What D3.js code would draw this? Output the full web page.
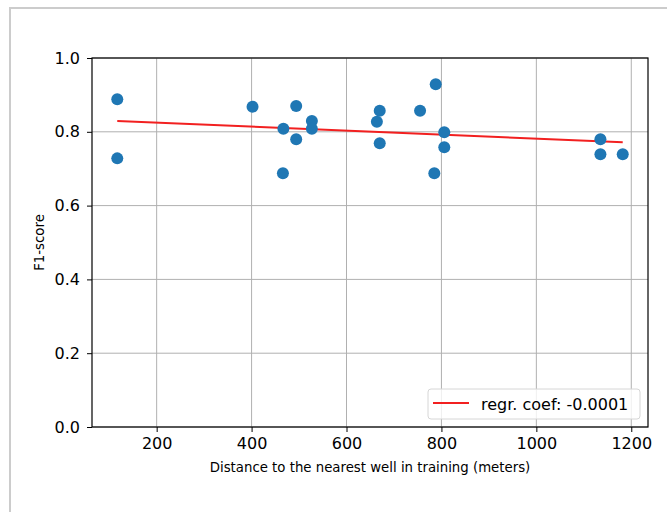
<!DOCTYPE html>
<html>
<head>
<meta charset="utf-8">
<script src="https://cdn.jsdelivr.net/npm/d3@7"></script>
<style>
  body { margin: 0; background: #fff; }
  text { font-family: "DejaVu Sans", sans-serif; fill: #000; }
</style>
</head>
<body>
<svg id="chart" width="667" height="512"></svg>
<script>
// distance to nearest training well (m) and F1-score per test well
var distances = [117, 117, 402, 466, 467, 494, 494, 527, 527, 664, 670, 670, 755, 788, 785, 806, 806, 1135, 1135, 1182];
var f1scores = [0.888, 0.728, 0.868, 0.6875, 0.808, 0.870, 0.780, 0.829, 0.808, 0.827, 0.857, 0.769, 0.857, 0.929, 0.6875, 0.799, 0.758, 0.780, 0.739, 0.739];
var xTicks = [200, 400, 600, 800, 1000, 1200];
var yTicks = [0.0, 0.2, 0.4, 0.6, 0.8, 1.0];

var svg = d3.select("#chart");

// outer card frame
svg.append("rect")
    .attr("x", 10).attr("y", 8)
    .attr("width", 700).attr("height", 600)
    .attr("fill", "none")
    .attr("stroke", "#cccccc")
    .attr("stroke-width", 2);

var plotLeft = 92, plotTop = 58, width = 556, height = 369;
var g = svg.append("g").attr("transform", "translate(" + plotLeft + "," + plotTop + ")");

// matplotlib style 5% margins
var xmin = d3.min(distances), xmax = d3.max(distances);
var pad = (xmax - xmin) * 0.05;
var x = d3.scaleLinear().domain([xmin - pad, xmax + pad]).range([0, width]);
var y = d3.scaleLinear().domain([0, 1]).range([height, 0]);

// grid
g.append("g").selectAll("line").data(xTicks).join("line")
    .attr("x1", d => x(d)).attr("x2", d => x(d))
    .attr("y1", 0).attr("y2", height)
    .attr("stroke", "#b0b0b0").attr("stroke-width", 1);
g.append("g").selectAll("line").data(yTicks).join("line")
    .attr("y1", d => y(d)).attr("y2", d => y(d))
    .attr("x1", 0).attr("x2", width)
    .attr("stroke", "#b0b0b0").attr("stroke-width", 1);

// least squares fit
var mx = d3.mean(distances), my = d3.mean(f1scores);
var sxy = 0, sxx = 0;
distances.forEach((d, i) => {
    sxy += (d - mx) * (f1scores[i] - my);
    sxx += (d - mx) * (d - mx);
});
var slope = sxy / sxx;
var intercept = my - slope * mx;
var fit = [xmin, xmax].map(d => ({x: d, y: intercept + slope * d}));

g.append("path")
    .datum(fit)
    .attr("fill", "none")
    .attr("stroke", "#f22020")
    .attr("stroke-width", 2)
    .attr("d", d3.line().x(d => x(d.x)).y(d => y(d.y)));

// points
g.append("g").selectAll("circle").data(distances).join("circle")
    .attr("cx", d => x(d))
    .attr("cy", (d, i) => y(f1scores[i]))
    .attr("r", 6)
    .attr("fill", "#1f77b4");

// axes
var xAxis = g.append("g")
    .attr("transform", "translate(0," + height + ")")
    .call(d3.axisBottom(x).tickValues(xTicks).tickSize(5).tickPadding(6).tickFormat(d3.format("d")));
var yAxis = g.append("g")
    .call(d3.axisLeft(y).tickValues(yTicks).tickSize(5).tickPadding(7).tickFormat(d3.format(".1f")));
[xAxis, yAxis].forEach(a => {
    a.select(".domain").remove();
    a.selectAll("line").attr("stroke", "#000");
    a.selectAll("text").style("font-size", "16px").style("font-family", "DejaVu Sans");
});

// frame
g.append("rect")
    .attr("width", width).attr("height", height)
    .attr("fill", "none").attr("stroke", "#000").attr("stroke-width", 1.2);

// labels
svg.append("text")
    .attr("x", plotLeft + width / 2).attr("y", 471.5)
    .attr("text-anchor", "middle")
    .style("font-size", "13.3px")
    .text("Distance to the nearest well in training (meters)");
svg.append("text")
    .attr("transform", "translate(44," + (plotTop + height / 2) + ") rotate(-90)")
    .attr("text-anchor", "middle")
    .style("font-size", "13.3px")
    .text("F1-score");

// legend
var legend = svg.append("g").attr("transform", "translate(428,389)");
legend.append("rect")
    .attr("width", 212).attr("height", 30)
    .attr("rx", 3)
    .attr("fill", "#fff").attr("fill-opacity", 0.8)
    .attr("stroke", "#d6d6d6");
legend.append("line")
    .attr("x1", 5).attr("x2", 41).attr("y1", 14).attr("y2", 14)
    .attr("stroke", "#f22020").attr("stroke-width", 2);
legend.append("text")
    .attr("x", 53).attr("y", 20.5)
    .style("font-size", "16px")
    .text("regr. coef: " + slope.toFixed(4));
</script>
</body>
</html>
